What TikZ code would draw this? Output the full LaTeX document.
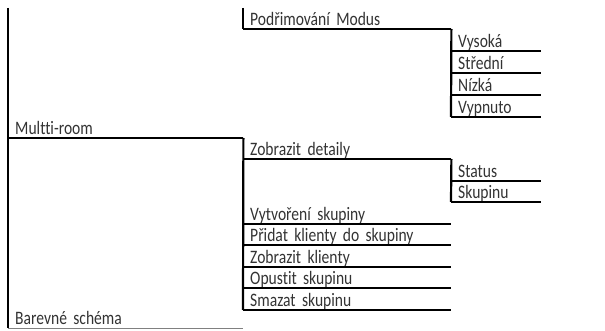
\documentclass[tikz,border=0pt]{standalone}
\usepackage{fontspec}
\setmainfont{Carlito}[Ligatures={NoCommon}, FakeStretch=0.82]
\usepackage{tikz}

\begin{document}
\begin{tikzpicture}[x=1pt, y=-1pt,
    every node/.style={font=\fontsize{19}{21}\selectfont, text=black!80},
    item/.style={anchor=south west, inner xsep=7pt, inner ysep=3pt, align=left, text depth=0pt, text height=13pt},
    c1/.style={item, text width=221pt},
    c2/.style={item, text width=194pt},
    c3/.style={item, text width=76pt},
    bar/.style={line width=2.2pt},
    ul/.style={line width=2pt}]
    \useasboundingbox (0, 0) rectangle (605, 331);

    \coordinate (top) at (8, 8);

    \node [c2] (pm) at (243, 29) {Podřimování Modus};
    \node [c3] (vys) at (451, 51) {Vysoká};
    \node [c3] (str) at (451, 73) {Střední};
    \node [c3] (niz) at (451, 95) {Nízká};
    \node [c3] (vyp) at (451, 117) {Vypnuto};

    \node [c1] (mr) at (8, 138) {Multti-room};
    \node [c2] (zd) at (243, 159) {Zobrazit detaily};
    \node [c3] (sta) at (451, 181) {Status};
    \node [c3] (sku) at (451, 202) {Skupinu};
    \node [c2] (vs) at (243, 224) {Vytvoření skupiny};
    \node [c2] (pk) at (243, 245) {Přidat klienty do skupiny};
    \node [c2] (zk) at (243, 267) {Zobrazit klienty};
    \node [c2] (os) at (243, 288) {Opustit skupinu};
    \node [c2] (ss) at (243, 310) {Smazat skupinu};

    \node [c1] (bs) at (8, 328) {Barevné schéma};

    \draw [bar] (top) -- (bs.south west);
    \draw [bar] (pm.south west) ++(0, -21) -- (pm.south west);
    \draw [ul] (pm.south west) -- (pm.south east);
    \draw [bar] (pm.south east) -- (vyp.south west);
    \foreach \n in {vys, str, niz, vyp}
        \draw [ul] (\n.south west) -- (\n.south east);

    \draw [ul] (mr.south west) -- (mr.south east);
    \draw [bar] (mr.south east) -- (ss.south west);
    \foreach \n in {zd, vs, pk, zk, os, ss}
        \draw [ul] (\n.south west) -- (\n.south east);
    \draw [bar] (zd.south east) -- (sku.south west);
    \foreach \n in {sta, sku}
        \draw [ul] (\n.south west) -- (\n.south east);

    \draw [gray, line width=1pt] (bs.south west) -- (bs.south east);
  \end{tikzpicture}
\end{document}
